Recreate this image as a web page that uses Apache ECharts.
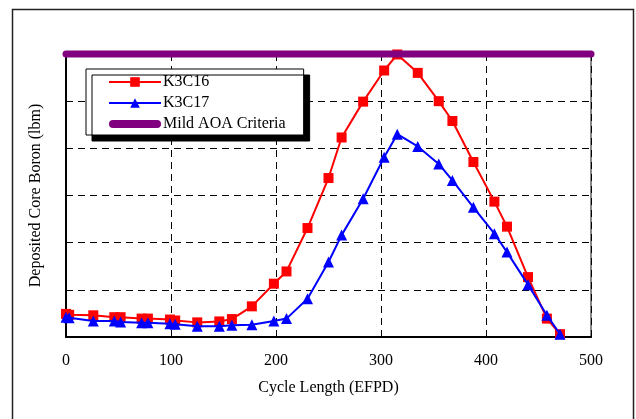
<!DOCTYPE html>
<html>
<head>
<meta charset="utf-8">
<script src="https://cdn.jsdelivr.net/npm/echarts@6/dist/echarts.min.js"></script>
<style>html,body{margin:0;padding:0;background:#fff;}#c{width:636px;height:419px;}</style>
</head>
<body>
<div id="c"></div>
<script>
const days = [0, 3, 26, 46, 52, 72, 78, 99, 104, 125, 146, 158, 177, 198, 210, 230, 250, 262.5, 283, 303, 315.5, 335, 355, 368, 388, 408, 420, 440, 458, 470.5];
const k3c16 = [0.49, 0.47, 0.46, 0.42, 0.42, 0.39, 0.39, 0.37, 0.35, 0.31, 0.33, 0.38, 0.65, 1.13, 1.39, 2.31, 3.37, 4.23, 4.99, 5.65, 5.99, 5.6, 5.0, 4.58, 3.71, 2.87, 2.34, 1.27, 0.39, 0.06];
const k3c17 = [0.42, 0.41, 0.34, 0.34, 0.32, 0.30, 0.30, 0.28, 0.27, 0.23, 0.23, 0.25, 0.26, 0.34, 0.39, 0.81, 1.59, 2.16, 2.93, 3.81, 4.3, 4.04, 3.67, 3.32, 2.75, 2.19, 1.80, 1.11, 0.46, 0.06];
const criteriaX = [0, 500];
const criteriaY = [6, 6];
const xTicks = [0, 100, 200, 300, 400, 500];

const font = '"Liberation Serif", "Times New Roman", serif';
const pair = (xs, ys) => xs.map((x, i) => [x, ys[i]]);
// thick round-capped bar icon, padded to the 52x12 legend box
const barIcon = 'path://M0,0M52,12M4,2L48,2Q52,2 52,6Q52,10 48,10L4,10Q0,10 0,6Q0,2 4,2Z';

const chart = echarts.init(document.getElementById('c'), null, {renderer: 'canvas'});
chart.setOption({
  backgroundColor: '#fff',
  animation: false,
  graphic: [{
    type: 'rect', left: 10, top: 7, z: -1,
    shape: {width: 621, height: 430},
    style: {fill: 'none', stroke: '#222', lineWidth: 1.5}
  }],
  grid: {left: 66, right: 45, top: 54, bottom: 82, show: true, borderColor: '#888', borderWidth: 2, backgroundColor: 'transparent'},
  legend: {
    orient: 'vertical', left: 86, top: 69,
    padding: [5, 18, 3, 22], itemGap: 5, itemWidth: 52, itemHeight: 12,
    backgroundColor: '#fff', borderColor: '#000', borderWidth: 1,
    shadowColor: '#000', shadowBlur: 0, shadowOffsetX: 6, shadowOffsetY: 6,
    textStyle: {fontFamily: font, fontSize: 16, color: '#000', padding: [0, 0, 0, -3]},
    data: ['K3C16', 'K3C17', {name: 'Mild AOA Criteria', icon: barIcon}]
  },
  xAxis: {
    type: 'value', min: 0, max: 500, interval: 100,
    name: 'Cycle Length (EFPD)', nameLocation: 'middle', nameGap: 43,
    nameTextStyle: {fontFamily: font, fontSize: 16, color: '#000'},
    axisLine: {show: true, onZero: false, lineStyle: {color: '#000', width: 2}},
    axisTick: {show: true, inside: true, length: 5, lineStyle: {color: '#000'}},
    axisLabel: {fontFamily: font, fontSize: 16, color: '#000', margin: 16,
      formatter: v => xTicks.includes(v) ? String(v) : ''},
    splitLine: {show: true, lineStyle: {color: '#000', type: [7, 5], width: 1}}
  },
  yAxis: {
    type: 'value', min: 0, max: 6, interval: 1,
    name: 'Deposited Core Boron (lbm)', nameLocation: 'middle', nameGap: 22,
    nameTextStyle: {fontFamily: font, fontSize: 16, color: '#000'},
    axisLine: {show: true, lineStyle: {color: '#000', width: 2}},
    axisTick: {show: true, inside: true, length: 5, lineStyle: {color: '#000'}},
    axisLabel: {show: false},
    splitLine: {show: true, lineStyle: {color: '#000', type: [7, 5], width: 1}}
  },
  series: [
    {
      name: 'K3C16', type: 'line', data: pair(days, k3c16), clip: false,
      symbol: 'rect', symbolSize: 10, z: 3,
      lineStyle: {color: '#ff0000', width: 2}, itemStyle: {color: '#ff0000'}
    },
    {
      name: 'K3C17', type: 'line', data: pair(days, k3c17), clip: false,
      symbol: 'triangle', symbolSize: 11, z: 4,
      lineStyle: {color: '#0000ff', width: 2}, itemStyle: {color: '#0000ff'}
    },
    {
      name: 'Mild AOA Criteria', type: 'line', data: pair(criteriaX, criteriaY), clip: false,
      symbol: 'none', z: 5,
      lineStyle: {color: '#800080', width: 7, cap: 'round'}, itemStyle: {color: '#800080'}
    }
  ]
});
</script>
</body>
</html>
